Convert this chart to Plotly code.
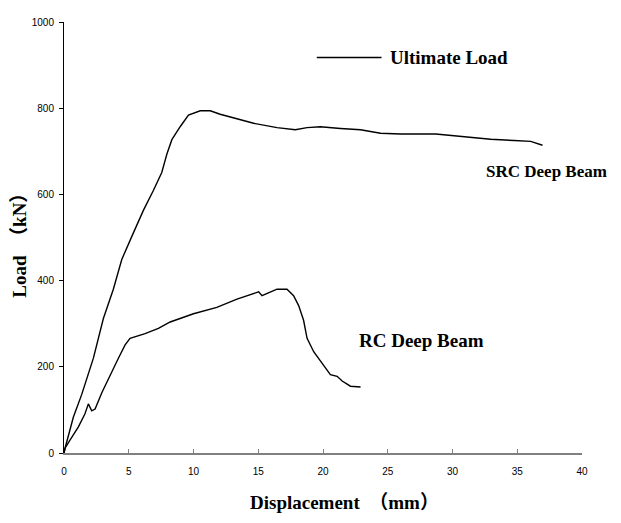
import plotly.graph_objects as go

# SRC deep beam load-displacement curve
src_disp = [0, 0.08, 0.72, 1.37, 2.27, 3.04, 3.81, 4.46, 5.23, 5.75, 6.13, 6.9, 7.55, 7.94,
            8.33, 8.97, 9.61, 10.52, 11.29, 12.06, 13.6, 14.64, 16.45, 17.86, 18.77, 19.8,
            21.35, 22.9, 24.44, 25.99, 28.7, 30.1, 31.4, 32.95, 34.75, 36.04, 36.95]
src_load = [0, 11, 83, 136, 220, 312, 380, 449, 502, 536, 563, 609, 651, 693,
            727, 757, 784, 794, 794, 786, 774, 765, 755, 750, 755, 757,
            753, 750, 742, 740, 740, 736, 731, 728, 725, 723, 714]

# RC deep beam load-displacement curve
rc_disp = [0, 0.08, 0.46, 1.1, 1.62, 1.88, 2.14, 2.4, 2.92, 3.56, 4.2, 4.72, 5.1, 6.26,
           7.29, 8.2, 10.0, 11.8, 13.36, 15.03, 15.29, 16.45, 17.22, 17.73, 18.12, 18.5,
           18.77, 19.28, 20.05, 20.57, 21.09, 21.48, 22.12, 22.9]
rc_load = [0, 11, 30, 60, 91, 114, 98, 102, 140, 182, 220, 251, 266, 277,
           289, 304, 323, 338, 357, 374, 365, 380, 380, 365, 342, 308,
           266, 235, 205, 182, 178, 167, 155, 153]

x_ticks = [0, 5, 10, 15, 20, 25, 30, 35, 40]
y_ticks = [0, 200, 400, 600, 800, 1000]

x_title = "Displacement  （mm）"
y_title = "Load  （kN）"
legend_label = "Ultimate Load"
src_label = "SRC Deep Beam"
rc_label = "RC Deep Beam"

fig = go.Figure()
fig.add_trace(go.Scatter(x=src_disp, y=src_load, mode="lines",
                         line=dict(color="black", width=1.4), showlegend=False))
fig.add_trace(go.Scatter(x=rc_disp, y=rc_load, mode="lines",
                         line=dict(color="black", width=1.4), showlegend=False))

serif_bold = "Liberation Serif, Times New Roman, Noto Sans CJK SC, serif"
FS = 19

fig.update_layout(
    width=613, height=515,
    margin=dict(l=56, r=39, t=8, b=70),
    paper_bgcolor="white", plot_bgcolor="white",
    font=dict(family="Liberation Sans, Arial, sans-serif", size=10, color="black"),
    xaxis=dict(range=[0, 40], tickvals=x_ticks, ticks="inside", ticklen=4,
               tickcolor="#808080", showline=True, linecolor="#808080", linewidth=1.5,
               showgrid=False, zeroline=False, tickfont=dict(size=10),
               ticklabelstandoff=8),
    yaxis=dict(range=[0, 1000], tickvals=y_ticks, ticks="outside", ticklen=4,
               tickcolor="black", showline=True, linecolor="black", linewidth=1,
               showgrid=False, zeroline=False, tickfont=dict(size=10),
               ticklabelstandoff=3),
    annotations=[
        dict(text="<b>" + x_title + "</b>", xref="paper", yref="paper",
             x=0.355, y=-0.1144, yanchor="middle", xanchor="left", showarrow=False,
             font=dict(family=serif_bold, size=FS)),
        dict(text="<b>" + y_title + "</b>", xref="paper", yref="paper",
             x=-0.0855, y=0.492, xanchor="center", yanchor="middle", textangle=-90,
             showarrow=False, font=dict(family=serif_bold, size=FS)),
        dict(text="<b>" + legend_label + "</b>", xref="paper", yref="paper",
             x=0.6255, y=0.9176, xanchor="left", yanchor="middle", showarrow=False,
             font=dict(family=serif_bold, size=FS)),
        dict(text="<b>" + src_label + "</b>", xref="paper", yref="paper",
             x=0.811, y=0.652, xanchor="left", yanchor="middle", showarrow=False,
             font=dict(family=serif_bold, size=17)),
        dict(text="<b>" + rc_label + "</b>", xref="paper", yref="paper",
             x=0.5656, y=0.261, xanchor="left", yanchor="middle", showarrow=False,
             font=dict(family=serif_bold, size=FS)),
    ],
    shapes=[
        dict(type="line", xref="paper", yref="paper", x0=0.488, x1=0.613,
             y0=0.9176, y1=0.9176, line=dict(color="black", width=1.3)),
    ],
)

fig.write_html("out.html")
